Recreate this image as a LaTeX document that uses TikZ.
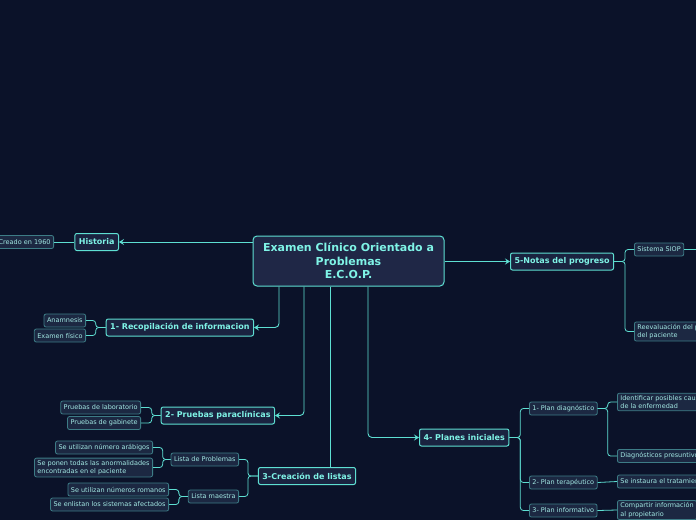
\documentclass[tikz,border=0pt]{standalone}
\usepackage{fontspec}
\setmainfont{DejaVu Sans}
\usetikzlibrary{positioning, arrows.meta, calc}
\definecolor{bgnavy}{HTML}{0B1229}
\definecolor{cyanline}{HTML}{5EDFD2}
\definecolor{cyantext}{HTML}{7FF3E6}
\definecolor{rootfill}{HTML}{1F2746}
\definecolor{topicfill}{HTML}{1A2340}
\definecolor{leaffill}{HTML}{1C2842}
\definecolor{leafdraw}{HTML}{3D7C86}
\definecolor{leaftext}{HTML}{A3E9E4}
\tikzset{
  base/.style={rounded corners=2pt, inner xsep=4pt, inner ysep=2pt},
  rootbox/.style={base, rounded corners=4pt, align=center, fill=rootfill, draw=cyanline,
                  line width=1pt, text=cyantext, font=\fontsize{11}{13.5}\selectfont\bfseries,
                  minimum width=191pt, minimum height=50pt},
  topicbox/.style={base, align=center, fill=topicfill, draw=cyanline, line width=1pt,
                   text=cyantext, font=\fontsize{8}{9.5}\selectfont\bfseries, minimum height=17pt},
  leafbox/.style={base, align=left, fill=leaffill, draw=leafdraw, line width=0.8pt,
                  text=leaftext, font=\fontsize{6.5}{8.5}\selectfont, minimum height=13pt, inner xsep=3pt},
  arrow/.style={-{Stealth[length=5pt,width=6pt,inset=2pt]}, draw=cyanline, line width=0.9pt,
                rounded corners=4pt},
  link/.style={draw=cyanline, line width=0.8pt, rounded corners=3pt},
}

\begin{document}
\begin{tikzpicture}[x=1pt, y=-1pt]

%% ====================  CANVAS  ====================

\useasboundingbox (0,0) rectangle (696,520);
\clip (0,0) rectangle (696,520);
\fill[bgnavy] (0,0) rectangle (696,520);

%% ====================  CENTRE  ====================

\node[rootbox] (ecop) at (348.5,261)
  {Examen Clínico Orientado a\\Problemas\\E.C.O.P.};

%% ====================  LEFT BRANCHES  ====================

\node[topicbox, anchor=east] (hist) at (119,242) {Historia};
\node[leafbox, anchor=east] (creado) at (54,242) {Creado en 1960};

\node[topicbox, anchor=east] (recop) at (254,327.5) {1- Recopilación de informacion};
\node[leafbox, anchor=east] (anam) at (86,320.5) {Anamnesis};
\node[leafbox, anchor=east] (exfis) at (86,335.5) {Examen físico};

\node[topicbox, anchor=east] (parac) at (275,415.5) {2- Pruebas paraclínicas};
\node[leafbox, anchor=east] (lab) at (141,407.5) {Pruebas de laboratorio};
\node[leafbox, anchor=east] (gab) at (141,423) {Pruebas de gabinete};

%% ====================  LISTS  ====================

\node[topicbox] (listas) at (307,476) {3-Creación de listas};
\node[leafbox, anchor=east] (lprob) at (239,459.5) {Lista de Problemas};
\node[leafbox, anchor=east] (lmaes) at (239,496.5) {Lista maestra};
\node[leafbox, anchor=east] (arab) at (153,447.5) {Se utilizan número arábigos};
\node[leafbox, anchor=east] (anorm) at (153,467.5)
  {Se ponen todas las anormalidades\\encontradas en el paciente};
\node[leafbox, anchor=east] (roman) at (169,489.5) {Se utilizan números romanos};
\node[leafbox, anchor=east] (sistaf) at (169,504.5) {Se enlistan los sistemas afectados};

%% ====================  RIGHT BRANCHES  ====================

\node[topicbox, anchor=west] (notas) at (510,261.5) {5-Notas del progreso};
\node[leafbox, anchor=west] (siop) at (634,249.5) {Sistema SIOP};
\node[leafbox, anchor=west] (reev) at (634,331.5) {Reevaluación del problema\\del paciente};
\coordinate (siopout) at (700,249.5);

\node[topicbox, anchor=west] (planes) at (419,437.5) {4- Planes iniciales};
\node[leafbox, anchor=west] (pdiag) at (529,408.5) {1- Plan diagnóstico};
\node[leafbox, anchor=west] (pter) at (529,482.5) {2- Plan terapéutico};
\node[leafbox, anchor=west] (pinf) at (529,510.5) {3- Plan informativo};
\node[leafbox, anchor=west] (ident) at (617,402)
  {Identificar posibles causas\\de la enfermedad};
\node[leafbox, anchor=west] (dpres) at (617,456) {Diagnósticos presuntivos};
\node[leafbox, anchor=west] (instau) at (617,481.5) {Se instaura el tratamiento};
\node[leafbox, anchor=west] (compar) at (617,510)
  {Compartir información\\al propietario};

%% ====================  ARROWS FROM CENTRE  ====================

\draw[arrow] (ecop.west |- hist.east) -- (hist.east);
\draw[arrow] ([xshift=-69.5pt]ecop.south) |- (recop.east);
\draw[arrow] ([xshift=-44.5pt]ecop.south) |- (parac.east);
\draw[link, line width=0.9pt] ([xshift=-18.5pt]ecop.south) -- ([xshift=-18.5pt]ecop.south |- listas.north);
\draw[arrow] ([xshift=19.5pt]ecop.south) |- (planes.west);
\draw[arrow] (ecop.east |- notas.west) -- (notas.west);

%% ====================  BRACKETS  ====================

\draw[link] (hist.west) -- (creado.east);
\draw[link] (recop.west) -- ++(-10,0) |- (anam.east);
\draw[link] (recop.west) -- ++(-10,0) |- (exfis.east);
\draw[link] (parac.west) -- ++(-9,0) |- (lab.east);
\draw[link] (parac.west) -- ++(-9,0) |- (gab.east);

\draw[link] (listas.west) -- ++(-10,0) |- (lprob.east);
\draw[link] (listas.west) -- ++(-10,0) |- (lmaes.east);
\draw[link] (lprob.west) -- ++(-8,0) |- (arab.east);
\draw[link] (lprob.west) -- ++(-8,0) |- (anorm.east);
\draw[link] (lmaes.west) -- ++(-9,0) |- (roman.east);
\draw[link] (lmaes.west) -- ++(-9,0) |- (sistaf.east);

\draw[link] (notas.east) -- ++(11,0) |- (siop.west);
\draw[link] (notas.east) -- ++(11,0) |- (reev.west);
\draw[link] (siop.east) -- (siopout);

\draw[link] (planes.east) -- ++(11,0) |- (pdiag.west);
\draw[link] (planes.east) -- ++(11,0) |- (pter.west);
\draw[link] (planes.east) -- ++(11,0) |- (pinf.west);
\draw[link] (pdiag.east) -- ++(10,0) |- (ident.west);
\draw[link] (pdiag.east) -- ++(10,0) |- (dpres.west);
\draw[link] (pter.east) -- (instau.west);
\draw[link] (pinf.east) -- (compar.west);

\end{tikzpicture}
\end{document}
